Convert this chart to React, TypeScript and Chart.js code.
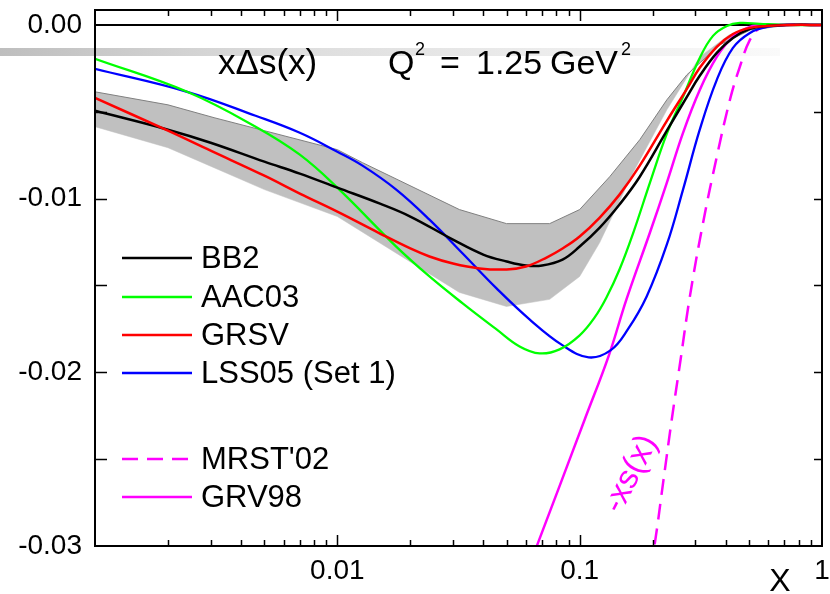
import React, { useEffect, useRef } from 'react';
import { Chart, registerables } from 'chart.js';
Chart.register(...registerables);

const FONT = "'Liberation Sans', Arial, Helvetica, sans-serif";

// ---- axes ----
const xMin = 0.001;
const xMax = 1;
const yMin = -0.03;
const yMax = 0.00086;
const xTickValues = [0.01, 0.1, 1];
const xTickLabels = ['0.01', '0.1', '1'];
const yTickValues = [0, -0.01, -0.02, -0.03];
const yTickLabels = ['0.00', '-0.01', '-0.02', '-0.03'];
const xMajorMarks = [0.01, 0.1];
const xMinorMarks = [0.002, 0.003, 0.004, 0.005, 0.006, 0.007, 0.008, 0.009,
  0.02, 0.03, 0.04, 0.05, 0.06, 0.07, 0.08, 0.09,
  0.2, 0.3, 0.4, 0.5, 0.6, 0.7, 0.8, 0.9];
const yMarks = [-0.005, -0.01, -0.015, -0.02, -0.025];

// ---- series ----
const bb2X = [0.001, 0.002, 0.003, 0.005, 0.007, 0.01, 0.015, 0.02, 0.03, 0.04, 0.05, 0.06, 0.07, 0.085, 0.1, 0.121, 0.146, 0.177, 0.229, 0.277, 0.313, 0.368, 0.429, 0.504, 0.593, 0.738, 1];
const bb2Y = [-0.00494, -0.00603, -0.00678, -0.00787, -0.00856, -0.00937, -0.01029, -0.01103, -0.01236, -0.01322, -0.01362, -0.01385, -0.01385, -0.01351, -0.01276, -0.01167, -0.01034, -0.00874, -0.00609, -0.00414, -0.00293, -0.00161, -0.00075, -0.00023, -0.00006, 0, 0];

const grsvX = [0.001, 0.002, 0.003, 0.005, 0.007, 0.01, 0.015, 0.02, 0.024, 0.03, 0.0386, 0.05, 0.06, 0.073, 0.085, 0.1, 0.121, 0.146, 0.177, 0.229, 0.277, 0.313, 0.368, 0.429, 0.504, 0.593, 0.738, 1];
const grsvY = [-0.0042, -0.00609, -0.00724, -0.00868, -0.00971, -0.01075, -0.01201, -0.01287, -0.01333, -0.01374, -0.01402, -0.01408, -0.01391, -0.01339, -0.01287, -0.01218, -0.01109, -0.00977, -0.0081, -0.00552, -0.00368, -0.00247, -0.00126, -0.00052, -0.00017, -0.00006, 0, 0];

const aacX = [0.001, 0.0024, 0.0046, 0.007, 0.01, 0.0175, 0.024, 0.0329, 0.0454, 0.0565, 0.0684, 0.0826, 0.1, 0.1153, 0.129, 0.146, 0.166, 0.195, 0.229, 0.267, 0.313, 0.355, 0.405, 0.458, 0.554, 0.738, 1];
const aacY = [-0.00195, -0.00385, -0.00586, -0.00747, -0.00937, -0.01276, -0.01448, -0.01603, -0.01753, -0.01851, -0.01891, -0.01868, -0.01787, -0.01684, -0.01569, -0.01408, -0.01201, -0.00908, -0.00626, -0.00414, -0.0019, -0.00063, -0.00006, 0.000115, 0.00006, 0, 0];

const lssX = [0.001, 0.0024, 0.0046, 0.007, 0.01, 0.0127, 0.0175, 0.024, 0.0329, 0.0454, 0.0621, 0.0851, 0.109, 0.134, 0.158, 0.189, 0.229, 0.267, 0.313, 0.368, 0.429, 0.504, 0.593, 0.738, 1];
const lssY = [-0.00253, -0.00385, -0.00523, -0.00621, -0.0073, -0.0081, -0.00948, -0.01121, -0.01316, -0.01517, -0.01695, -0.01845, -0.01914, -0.01874, -0.01753, -0.01563, -0.01264, -0.00948, -0.00603, -0.00316, -0.00132, -0.00046, -0.00011, 0, 0];

const grvX = [0.0598, 0.067, 0.0826, 0.105, 0.132, 0.156, 0.195, 0.229, 0.267, 0.313, 0.368, 0.429, 0.504, 0.593, 1];
const grvY = [-0.03172, -0.02989, -0.02655, -0.0227, -0.01902, -0.0158, -0.01195, -0.00908, -0.00621, -0.00374, -0.00184, -0.00069, -0.00011, 0, 0];

const mrstX = [0.195, 0.204, 0.222, 0.24, 0.261, 0.285, 0.322, 0.368, 0.417, 0.458, 0.504, 0.554, 0.628, 1];
const mrstY = [-0.03132, -0.02989, -0.02615, -0.0227, -0.01925, -0.01563, -0.01149, -0.00759, -0.00431, -0.00241, -0.00086, -0.00017, 0, 0];

const bandUpperX = [0.001, 0.002, 0.0031, 0.005, 0.01, 0.0127, 0.0319, 0.0499, 0.0752, 0.1, 0.133, 0.177, 0.229, 0.277, 0.378, 0.506, 0.738, 1];
const bandUpperY = [-0.00385, -0.0046, -0.00534, -0.00609, -0.00718, -0.00793, -0.01063, -0.01144, -0.01144, -0.01063, -0.00874, -0.00661, -0.00431, -0.00287, -0.00115, -0.00029, 0, 0];
const bandLowerX = [0.001, 0.002, 0.0031, 0.005, 0.01, 0.0319, 0.0499, 0.0752, 0.1, 0.121, 0.166, 0.229, 0.313, 0.414, 0.556, 1];
const bandLowerY = [-0.00586, -0.00707, -0.00822, -0.00948, -0.01103, -0.0154, -0.01621, -0.0158, -0.01448, -0.01253, -0.00851, -0.00489, -0.00184, -0.00057, -0.00011, 0];

const seriesLabels = ['BB2', 'AAC03', 'GRSV', 'LSS05 (Set 1)', "MRST'02", 'GRV98'];
const seriesColors = ['#000000', '#00ff00', '#ff0000', '#0000ff', '#ff00ff', '#ff00ff'];

const pts = (xs: number[], ys: number[]) => xs.map((x, i) => ({ x, y: ys[i] }));

const curve = (label: string, color: string, xs: number[], ys: number[], width: number, dash: number[] = []) => ({
  label,
  data: pts(xs, ys),
  borderColor: color,
  backgroundColor: color,
  borderWidth: width,
  borderDash: dash,
  pointRadius: 0,
  fill: false,
  tension: 0.4,
});

const decorPlugin = {
  id: 'decor',
  beforeDraw(chart: any) {
    const ctx = chart.ctx;
    ctx.save();
    ctx.fillStyle = '#ffffff';
    ctx.fillRect(0, 0, chart.width, chart.height);
    const g = ctx.createLinearGradient(0, 0, 780, 0);
    g.addColorStop(0, 'rgb(190,190,190)');
    g.addColorStop(0.35, 'rgb(220,220,220)');
    g.addColorStop(1, 'rgb(250,250,250)');
    ctx.fillStyle = g;
    ctx.fillRect(0, 48, 780, 8);
    ctx.restore();
  },
  beforeDatasetsDraw(chart: any) {
    const ctx = chart.ctx;
    const { left, right } = chart.chartArea;
    const y0 = chart.scales.y.getPixelForValue(0);
    ctx.save();
    ctx.strokeStyle = '#000';
    ctx.lineWidth = 2;
    ctx.beginPath();
    ctx.moveTo(left, y0);
    ctx.lineTo(right, y0);
    ctx.stroke();
    ctx.restore();
  },
  afterDatasetsDraw(chart: any) {
    const ctx = chart.ctx;
    const xs = chart.scales.x;
    const ys = chart.scales.y;
    const { left, right, top, bottom } = chart.chartArea;
    ctx.save();
    // frame
    ctx.strokeStyle = '#000';
    ctx.lineWidth = 2;
    ctx.strokeRect(left, top, right - left, bottom - top);
    // ticks
    ctx.lineWidth = 1.5;
    ctx.beginPath();
    xMajorMarks.forEach((v) => {
      const p = Math.round(xs.getPixelForValue(v)) + 0.5;
      ctx.moveTo(p, bottom); ctx.lineTo(p, bottom - 11);
      ctx.moveTo(p, top); ctx.lineTo(p, top + 11);
    });
    xMinorMarks.forEach((v) => {
      const p = Math.round(xs.getPixelForValue(v)) + 0.5;
      ctx.moveTo(p, bottom); ctx.lineTo(p, bottom - 6);
      ctx.moveTo(p, top); ctx.lineTo(p, top + 6);
    });
    yMarks.forEach((v) => {
      const p = Math.round(ys.getPixelForValue(v)) + 0.5;
      ctx.moveTo(left, p); ctx.lineTo(left + 12, p);
      ctx.moveTo(right, p); ctx.lineTo(right - 8, p);
    });
    ctx.stroke();

    // titles
    ctx.fillStyle = '#000';
    ctx.textBaseline = 'alphabetic';
    ctx.textAlign = 'left';
    ctx.font = `35px ${FONT}`;
    ctx.fillText('x\u0394s(x)', 218, 74);
    ctx.font = `34px ${FONT}`;
    ctx.fillText('Q', 388, 74);
    ctx.fillText('=', 440, 74);
    ctx.fillText('1.25', 476, 74);
    ctx.fillText('GeV', 550, 74);
    const gevEnd = 550 + ctx.measureText('GeV').width;
    ctx.font = `18px ${FONT}`;
    ctx.fillText('2', 415, 55);
    ctx.fillText('2', gevEnd + 3, 55);

    // axis letter
    ctx.font = `32px ${FONT}`;
    ctx.textAlign = 'center';
    ctx.fillText('X', 780, 591);

    // rotated label
    ctx.save();
    ctx.translate(631, 474);
    ctx.rotate(-63 * Math.PI / 180);
    ctx.fillStyle = '#ff00ff';
    ctx.font = `33px ${FONT}`;
    ctx.textAlign = 'center';
    ctx.textBaseline = 'middle';
    ctx.fillText('-xs(x)', 0, 0);
    ctx.restore();

    // legend
    const rows = [258, 297, 335, 373, 459, 497];
    ctx.font = `31px ${FONT}`;
    ctx.textAlign = 'left';
    ctx.textBaseline = 'middle';
    seriesLabels.forEach((lab, i) => {
      const y = rows[i];
      ctx.strokeStyle = seriesColors[i];
      ctx.lineWidth = 2.5;
      ctx.setLineDash(lab === "MRST'02" ? [16, 9] : []);
      ctx.beginPath();
      ctx.moveTo(122, y);
      ctx.lineTo(192, y);
      ctx.stroke();
      ctx.setLineDash([]);
      ctx.fillStyle = '#000';
      ctx.fillText(lab, 201, y + 1);
    });
    ctx.restore();
  },
};

export default function App() {
  const ref = useRef<HTMLCanvasElement>(null);
  useEffect(() => {
    const canvas = ref.current;
    if (!canvas) return;
    const chart = new Chart(canvas, {
      type: 'line',
      data: {
        datasets: [
          curve(seriesLabels[2], seriesColors[2], grsvX, grsvY, 2.5),
          curve(seriesLabels[0], seriesColors[0], bb2X, bb2Y, 2.5),
          curve(seriesLabels[1], seriesColors[1], aacX, aacY, 2.3),
          curve(seriesLabels[3], seriesColors[3], lssX, lssY, 2.3),
          curve(seriesLabels[5], seriesColors[5], grvX, grvY, 2.5),
          curve(seriesLabels[4], seriesColors[4], mrstX, mrstY, 2.5, [16, 9]),
          {
            label: 'band upper',
            data: pts(bandUpperX, bandUpperY),
            borderColor: '#808080',
            borderWidth: 1,
            pointRadius: 0,
            tension: 0,
            fill: false,
          },
          {
            label: 'band lower',
            data: pts(bandLowerX, bandLowerY),
            borderColor: '#c0c0c0',
            backgroundColor: '#c0c0c0',
            borderWidth: 0.5,
            pointRadius: 0,
            tension: 0,
            fill: '-1',
          },
        ] as any,
      },
      options: {
        responsive: false,
        animation: false,
        devicePixelRatio: 1,
        layout: { padding: { left: 8, right: 8, top: 10, bottom: 0 } },
        plugins: {
          legend: { display: false },
          tooltip: { enabled: false },
          title: { display: false },
        },
        scales: {
          x: {
            type: 'logarithmic',
            min: xMin,
            max: xMax,
            grid: { display: false, drawTicks: false },
            border: { display: false },
            ticks: {
              color: '#000',
              font: { family: FONT, size: 28 },
              padding: 8,
              maxRotation: 0,
              autoSkip: false,
              callback: (_v: any, i: number) => xTickLabels[i],
            },
            afterBuildTicks: (s: any) => { s.ticks = xTickValues.map((v) => ({ value: v })); },
            afterFit: (s: any) => { s.height = 48; s.paddingLeft = 0; s.paddingRight = 0; },
          },
          y: {
            type: 'linear',
            min: yMin,
            max: yMax,
            grid: { display: false, drawTicks: false },
            border: { display: false },
            ticks: {
              color: '#000',
              font: { family: FONT, size: 28 },
              padding: 13,
              autoSkip: false,
              callback: (_v: any, i: number) => yTickLabels[i],
            },
            afterBuildTicks: (s: any) => { s.ticks = yTickValues.map((v) => ({ value: v })); },
            afterFit: (s: any) => { s.width = 87; s.paddingTop = 0; s.paddingBottom = 0; },
          },
        },
      } as any,
      plugins: [decorPlugin],
    });
    return () => chart.destroy();
  }, []);
  return (
    <div style={{ position: 'absolute', left: 0, top: 0, width: 830, height: 594, background: '#fff' }}>
      <canvas ref={ref} width={830} height={594} style={{ display: 'block', width: 830, height: 594 }} />
    </div>
  );
}
